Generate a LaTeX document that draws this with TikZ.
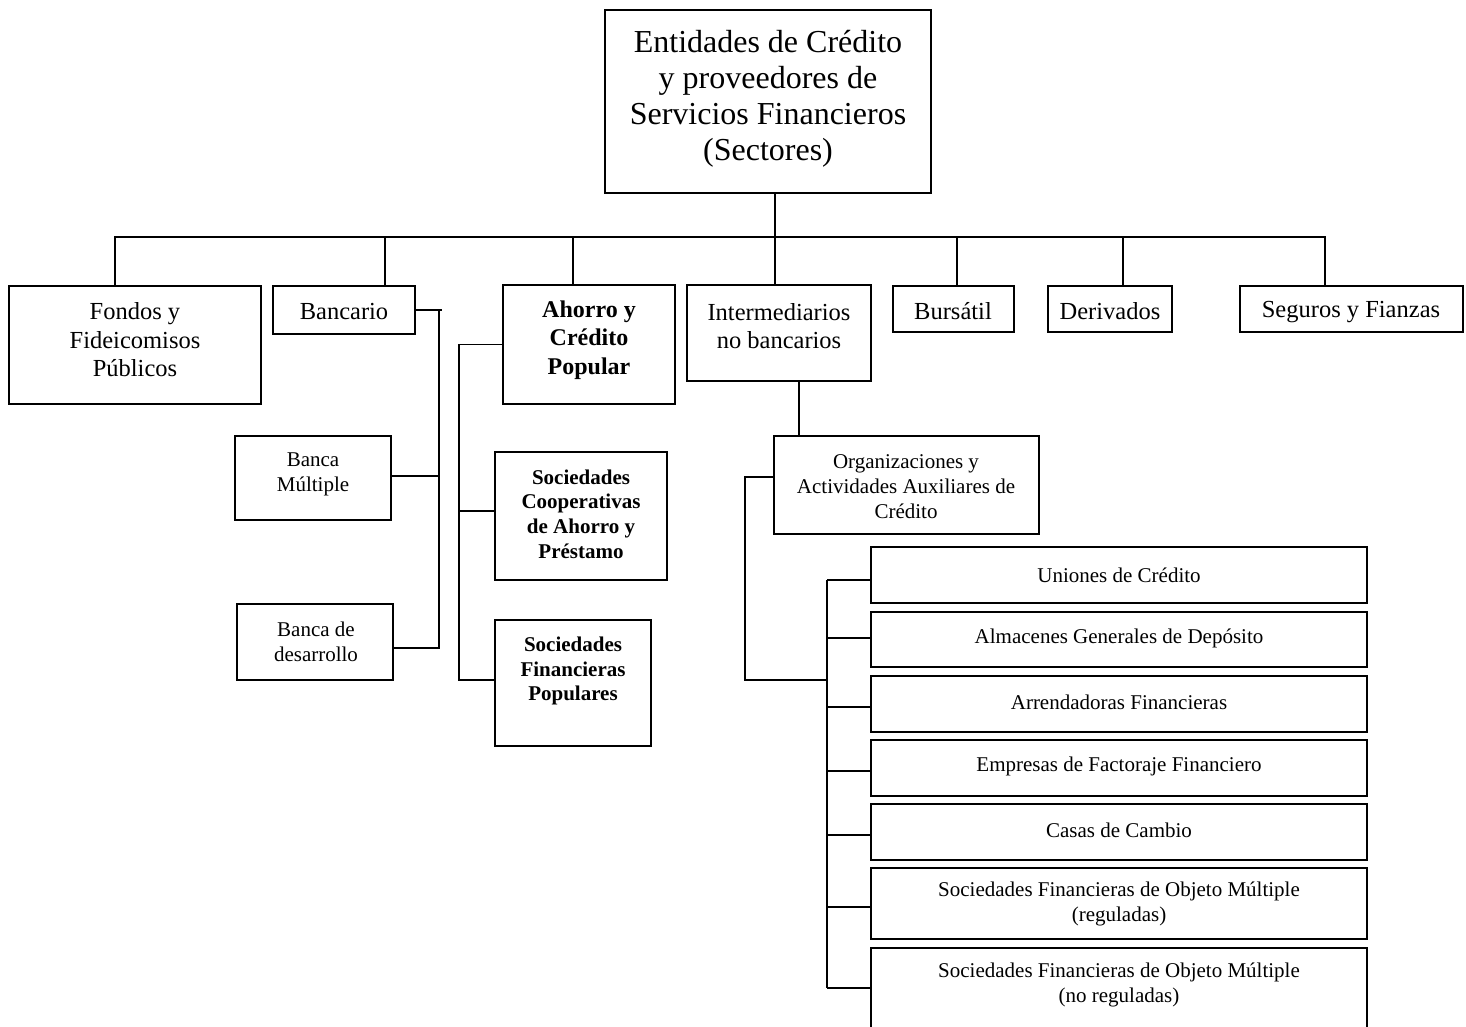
\documentclass[tikz,border=0pt]{standalone}
\usepackage{fontspec}
\setmainfont{Liberation Serif}
\usetikzlibrary{fit}
\tikzset{
  x=1pt, y=-1pt,
  bx/.style={draw, line width=1.7pt, inner sep=0pt, rectangle},
  ln/.style={line width=1.7pt},
  tBig/.style={align=center, inner sep=0pt, font=\fontsize{32}{36}\selectfont},
  tMid/.style={align=center, inner sep=0pt, font=\fontsize{24.5}{28.5}\selectfont},
  tMidB/.style={align=center, inner sep=0pt, font=\bfseries\fontsize{24}{28.5}\selectfont},
  tSm/.style={align=center, inner sep=0pt, font=\fontsize{21}{25}\selectfont},
  tSmB/.style={align=center, inner sep=0pt, font=\bfseries\fontsize{21}{24.7}\selectfont},
}
\begin{document}
\begin{tikzpicture}
\useasboundingbox (0,0) rectangle (1466,1027);
% ---------- boxes ----------
\node[bx, fit={(605,10) (931,193)}] (top) {};
\node[bx, fit={(9,286) (261,404)}] (fondos) {};
\node[bx, fit={(273,286) (415,334)}] (bancario) {};
\node[bx, fit={(503,285) (675,404)}] (ahorro) {};
\node[bx, fit={(687,285) (871,381)}] (interm) {};
\node[bx, fit={(893,286) (1014,332)}] (bursatil) {};
\node[bx, fit={(1048,286) (1172,332)}] (derivados) {};
\node[bx, fit={(1240,286) (1463,332)}] (seguros) {};
\node[bx, fit={(235,436) (391,520)}] (multiple) {};
\node[bx, fit={(237,604) (393,680)}] (desarrollo) {};
\node[bx, fit={(495,452) (667,580)}] (coop) {};
\node[bx, fit={(495,620) (651,746)}] (sfp) {};
\node[bx, fit={(774,436) (1039,534)}] (org) {};
\node[bx, fit={(871,547) (1367,603)}] (c1) {};
\node[bx, fit={(871,612) (1367,667)}] (c2) {};
\node[bx, fit={(871,676) (1367,732)}] (c3) {};
\node[bx, fit={(871,740) (1367,796)}] (c4) {};
\node[bx, fit={(871,804) (1367,860)}] (c5) {};
\node[bx, fit={(871,868) (1367,939)}] (c6) {};
\node[bx, fit={(871,948) (1367,1040)}] (c7) {};
% ---------- texts ----------
\node[tBig] (topT) at (768,99) {Entidades de Crédito\\y proveedores de\\Servicios Financieros\\(Sectores)};
\node[tMid] (fondosT) at (135,340) {Fondos y\\Fideicomisos\\Públicos};
\node[tMid] (bancarioT) at (344,312) {Bancario};
\node[tMidB] (ahorroT) at (589,340) {Ahorro y\\Crédito\\Popular};
\node[tMid] (intermT) at (779,326) {Intermediarios\\no bancarios};
\node[tMid] (bursatilT) at (953,311) {Bursátil};
\node[tMid] (derivadosT) at (1110,311) {Derivados};
\node[tMid] (segurosT) at (1351,312) {Seguros y Fianzas};
\node[tSm] (multipleT) at (313,474) {Banca\\Múltiple};
\node[tSm] (desarrolloT) at (316,642) {Banca de\\desarrollo};
\node[tSmB] (coopT) at (581,514) {Sociedades\\Cooperativas\\de Ahorro y\\Préstamo};
\node[tSmB] (sfpT) at (573,671) {Sociedades\\Financieras\\Populares};
\node[tSm] (orgT) at (906,487) {Organizaciones y\\Actividades Auxiliares de\\Crédito};
\node[tSm] (c1T) at (1119,575) {Uniones de Crédito};
\node[tSm] (c2T) at (1119,638) {Almacenes Generales de Depósito};
\node[tSm] (c3T) at (1119,702) {Arrendadoras Financieras};
\node[tSm] (c4T) at (1119,766) {Empresas de Factoraje Financiero};
\node[tSm] (c5T) at (1119,830) {Casas de Cambio};
\node[tSm] (c6T) at (1119,904) {Sociedades Financieras de Objeto Múltiple\\(reguladas)};
\node[tSm] (c7T) at (1119,985) {Sociedades Financieras de Objeto Múltiple\\(no reguladas)};
% ---------- connector coordinates ----------
\coordinate (dF) at (115,237);
\coordinate (dB) at (385,237);
\coordinate (dA) at (573,237);
\coordinate (dI) at (775,237);
\coordinate (dBu) at (957,237);
\coordinate (dD) at (1123,237);
\coordinate (dS) at (1325,237);
\coordinate (bv) at (439,0);
\coordinate (av) at (459,0);
\coordinate (iv) at (799,0);
\coordinate (ov) at (745,0);
\coordinate (cv) at (827,0);
\coordinate (desE) at ([yshift=-6pt]desarrollo.east);
\coordinate (mulE) at ([yshift=2pt]multiple.east);
\coordinate (sfpW) at ([yshift=3pt]sfp.west);
\coordinate (coopW) at ([yshift=5pt]coop.west);
\coordinate (orgW) at ([yshift=8pt]org.west);
\coordinate (jn) at (745,680);
\coordinate (c1W) at (871,580);
\coordinate (c2W) at (871,638);
\coordinate (c3W) at (871,707);
\coordinate (c4W) at (871,771);
\coordinate (c5W) at (871,835);
\coordinate (c6W) at (871,907);
\coordinate (c7W) at (871,988);
% ---------- connectors ----------
\draw[ln] (dI |- top.south) -- (dI);
\draw[ln, line cap=rect] (dF) -- (dS);
\draw[ln] (dF) -- (dF |- fondos.north);
\draw[ln] (dB) -- (dB |- bancario.north);
\draw[ln] (dA) -- (dA |- ahorro.north);
\draw[ln] (dI) -- (dI |- interm.north);
\draw[ln] (dBu) -- (dBu |- bursatil.north);
\draw[ln] (dD) -- (dD |- derivados.north);
\draw[ln] (dS) -- (dS |- seguros.north);
% Bancario
\draw[ln] (bancario.east) -- ++(26,0);
\draw[ln] (bv |- bancario.east) -- (bv |- desE) -- (desE);
\draw[ln] (mulE) -- (mulE -| bv);
% Ahorro
\draw[ln] (ahorro.west) -- (ahorro.west -| av) -- (av |- sfpW) -- (sfpW);
\draw[ln] (coopW) -- (coopW -| av);
% Intermediarios
\draw[ln] (iv |- interm.south) -- (iv |- org.north);
\draw[ln] (orgW) -- (orgW -| ov) -- (jn) -- (cv |- jn);
% children bus
\draw[ln] (cv |- c1W) -- (cv |- c7W);
\foreach \c in {c1,c2,c3,c4,c5,c6,c7}
  \draw[ln] (\c W) -- (\c W -| cv);
\end{tikzpicture}
\end{document}
